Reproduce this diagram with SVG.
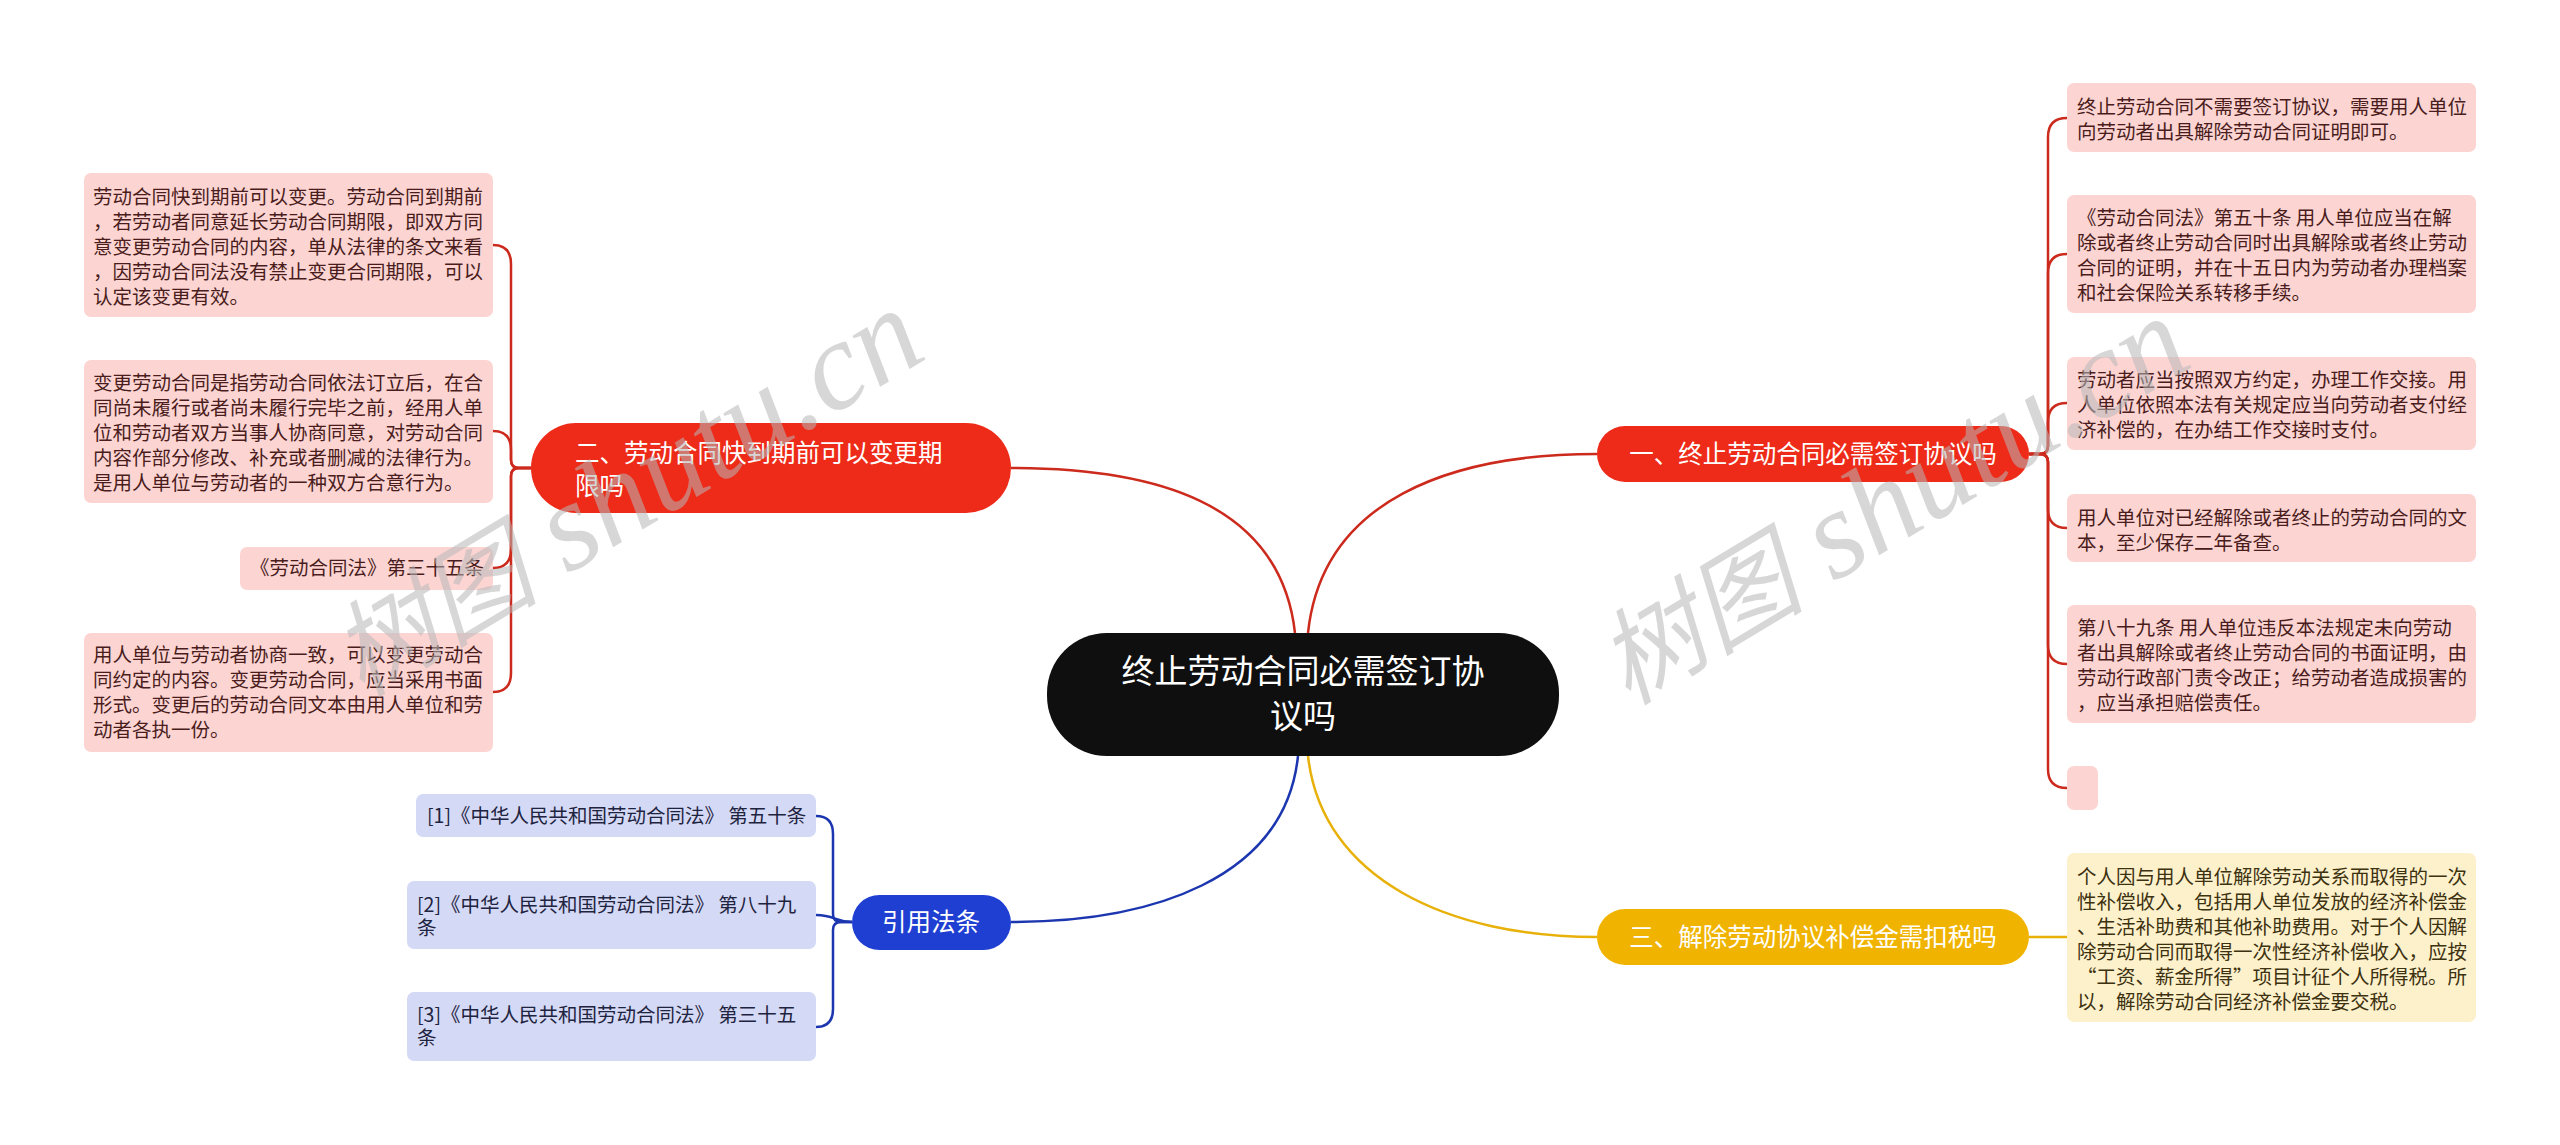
<svg xmlns="http://www.w3.org/2000/svg" width="2560" height="1145" viewBox="0 0 2560 1145">
<style>
.bg{fill:#ffffff}
.lf{font-family:"Noto Sans CJK SC","Noto Sans",sans-serif;font-size:19.5px}
.lr{fill:#fcd5d3}
.lrt{fill:#4a1c1c}
.ly{fill:#fdf1cc}
.lyt{fill:#3d3210}
.lb{fill:#d4d9f5}
.lbt{fill:#1e2340}
.bt{font-family:"Noto Sans CJK SC","Noto Sans",sans-serif;font-size:24.5px;fill:#ffffff}
.ct{font-family:"Noto Sans CJK SC","Noto Sans",sans-serif;font-size:33px;fill:#ffffff}
.cr{fill:none;stroke:#cc2a1c;stroke-width:2.5}
.cb{fill:none;stroke:#1c36b0;stroke-width:2.5}
.cy{fill:none;stroke:#e8b10a;stroke-width:2.5}
.wm{fill:#b8b8b8;opacity:0.55}
.wmc{font-family:"Noto Sans CJK SC",sans-serif;font-style:italic;font-size:104px}
.wml{font-family:"Liberation Serif",serif;font-style:italic;font-size:126px}
</style>
<rect class="bg" x="0" y="0" width="2560" height="1145"/>

<g id="connectors">
<path class="cr" d="M1295 633 C1280 500 1150 468 1011 468"/>
<path class="cr" d="M1308 633 C1322 500 1450 454 1597 454"/>
<path class="cb" d="M1298 756 C1285 880 1150 922 1011 922"/>
<path class="cy" d="M1308 756 C1322 880 1450 937 1597 937"/>
<path class="cr" d="M2029 454 L2040 454 Q2048 454 2048 446 L2048 137 Q2048 118 2067 118"/>
<path class="cr" d="M2029 454 L2040 454 Q2048 454 2048 446 L2048 273 Q2048 254 2067 254"/>
<path class="cr" d="M2029 454 L2040 454 Q2048 454 2048 446 L2048 422 Q2048 403 2067 403"/>
<path class="cr" d="M2029 454 L2040 454 Q2048 454 2048 462 L2048 509 Q2048 528 2067 528"/>
<path class="cr" d="M2029 454 L2040 454 Q2048 454 2048 462 L2048 645 Q2048 664 2067 664"/>
<path class="cr" d="M2029 454 L2040 454 Q2048 454 2048 462 L2048 769 Q2048 788 2067 788"/>
<path class="cr" d="M531 468 L519 468 Q511 468 511 460 L511 264 Q511 245 493 245"/>
<path class="cr" d="M531 468 L519 468 Q511 468 511 460 L511 450 Q511 431 493 431"/>
<path class="cr" d="M531 468 L519 468 Q511 468 511 476 L511 549 Q511 568 493 568"/>
<path class="cr" d="M531 468 L519 468 Q511 468 511 476 L511 673 Q511 692 493 692"/>
<path class="cb" d="M852 922 L841 922 Q833 922 833 914 L833 834 Q833 816 816 816"/>
<path class="cb" d="M852 922 C835 922 835 915 816 915"/>
<path class="cb" d="M852 922 L841 922 Q833 922 833 930 L833 1009 Q833 1027 816 1027"/>
<path class="cy" d="M2029 937 L2067 937"/>
</g>

<g id="center">
<rect x="1047" y="633" width="512" height="123" rx="60" fill="#0f0f0f"/>
<text class="ct" x="1303" y="683" text-anchor="middle">终止劳动合同必需签订协</text>
<text class="ct" x="1303" y="728" text-anchor="middle">议吗</text>
</g>

<g id="branch1">
<rect x="1597" y="426" width="432" height="56" rx="28" fill="#ee2b19"/>
<text class="bt" x="1813" y="463" text-anchor="middle">一、终止劳动合同必需签订协议吗</text>
</g>

<g id="branch2">
<rect x="531" y="423" width="480" height="90" rx="45" fill="#ee2b19"/>
<text class="bt" x="575" y="462">二、劳动合同快到期前可以变更期</text>
<text class="bt" x="575" y="495">限吗</text>
</g>

<g id="branch3">
<rect x="1597" y="909" width="432" height="56" rx="28" fill="#f0b400"/>
<text class="bt" x="1813" y="946" text-anchor="middle">三、解除劳动协议补偿金需扣税吗</text>
</g>

<g id="branch4">
<rect x="852" y="895" width="159" height="55" rx="27.5" fill="#1f3fd2"/>
<text class="bt" x="931" y="931" text-anchor="middle">引用法条</text>
</g>

<g id="leaf-r1">
<rect class="lr" x="2067" y="83" width="409" height="69" rx="7"/>
<text class="lf lrt" x="2077" y="114">终止劳动合同不需要签订协议，需要用人单位</text>
<text class="lf lrt" x="2077" y="139">向劳动者出具解除劳动合同证明即可。</text>
</g>
<g id="leaf-r2">
<rect class="lr" x="2067" y="195" width="409" height="118" rx="7"/>
<text class="lf lrt" x="2077" y="225">《劳动合同法》第五十条 用人单位应当在解</text>
<text class="lf lrt" x="2077" y="250">除或者终止劳动合同时出具解除或者终止劳动</text>
<text class="lf lrt" x="2077" y="275">合同的证明，并在十五日内为劳动者办理档案</text>
<text class="lf lrt" x="2077" y="300">和社会保险关系转移手续。</text>
</g>
<g id="leaf-r3">
<rect class="lr" x="2067" y="357" width="409" height="93" rx="7"/>
<text class="lf lrt" x="2077" y="387">劳动者应当按照双方约定，办理工作交接。用</text>
<text class="lf lrt" x="2077" y="412">人单位依照本法有关规定应当向劳动者支付经</text>
<text class="lf lrt" x="2077" y="437">济补偿的，在办结工作交接时支付。</text>
</g>
<g id="leaf-r4">
<rect class="lr" x="2067" y="494" width="409" height="68" rx="7"/>
<text class="lf lrt" x="2077" y="525">用人单位对已经解除或者终止的劳动合同的文</text>
<text class="lf lrt" x="2077" y="550">本，至少保存二年备查。</text>
</g>
<g id="leaf-r5">
<rect class="lr" x="2067" y="605" width="409" height="118" rx="7"/>
<text class="lf lrt" x="2077" y="635">第八十九条 用人单位违反本法规定未向劳动</text>
<text class="lf lrt" x="2077" y="660">者出具解除或者终止劳动合同的书面证明，由</text>
<text class="lf lrt" x="2077" y="685">劳动行政部门责令改正；给劳动者造成损害的</text>
<text class="lf lrt" x="2077" y="710">，应当承担赔偿责任。</text>
</g>
<g id="leaf-r6">
<rect class="lr" x="2067" y="766" width="31" height="44" rx="7"/>
</g>

<g id="leaf-y1">
<rect class="ly" x="2067" y="853" width="409" height="169" rx="7"/>
<text class="lf lyt" x="2077" y="884">个人因与用人单位解除劳动关系而取得的一次</text>
<text class="lf lyt" x="2077" y="909">性补偿收入，包括用人单位发放的经济补偿金</text>
<text class="lf lyt" x="2077" y="934">、生活补助费和其他补助费用。对于个人因解</text>
<text class="lf lyt" x="2077" y="959">除劳动合同而取得一次性经济补偿收入，应按</text>
<text class="lf lyt" x="2077" y="984">“工资、薪金所得”项目计征个人所得税。所</text>
<text class="lf lyt" x="2077" y="1009">以，解除劳动合同经济补偿金要交税。</text>
</g>

<g id="leaf-l1">
<rect class="lr" x="84" y="173" width="409" height="144" rx="7"/>
<text class="lf lrt" x="93" y="204">劳动合同快到期前可以变更。劳动合同到期前</text>
<text class="lf lrt" x="93" y="229">，若劳动者同意延长劳动合同期限，即双方同</text>
<text class="lf lrt" x="93" y="254">意变更劳动合同的内容，单从法律的条文来看</text>
<text class="lf lrt" x="93" y="279">，因劳动合同法没有禁止变更合同期限，可以</text>
<text class="lf lrt" x="93" y="304">认定该变更有效。</text>
</g>
<g id="leaf-l2">
<rect class="lr" x="84" y="360" width="409" height="143" rx="7"/>
<text class="lf lrt" x="93" y="390">变更劳动合同是指劳动合同依法订立后，在合</text>
<text class="lf lrt" x="93" y="415">同尚未履行或者尚未履行完毕之前，经用人单</text>
<text class="lf lrt" x="93" y="440">位和劳动者双方当事人协商同意，对劳动合同</text>
<text class="lf lrt" x="93" y="465">内容作部分修改、补充或者删减的法律行为。</text>
<text class="lf lrt" x="93" y="490">是用人单位与劳动者的一种双方合意行为。</text>
</g>
<g id="leaf-l3">
<rect class="lr" x="240" y="547" width="253" height="43" rx="7"/>
<text class="lf lrt" x="484" y="575" text-anchor="end">《劳动合同法》第三十五条</text>
</g>
<g id="leaf-l4">
<rect class="lr" x="84" y="633" width="409" height="119" rx="7"/>
<text class="lf lrt" x="93" y="662">用人单位与劳动者协商一致，可以变更劳动合</text>
<text class="lf lrt" x="93" y="687">同约定的内容。变更劳动合同，应当采用书面</text>
<text class="lf lrt" x="93" y="712">形式。变更后的劳动合同文本由用人单位和劳</text>
<text class="lf lrt" x="93" y="737">动者各执一份。</text>
</g>

<g id="leaf-b1">
<rect class="lb" x="416" y="794" width="400" height="43" rx="7"/>
<text class="lf lbt" x="427" y="823">[1]《中华人民共和国劳动合同法》 第五十条</text>
</g>
<g id="leaf-b2">
<rect class="lb" x="407" y="881" width="409" height="68" rx="7"/>
<text class="lf lbt" x="417" y="912">[2]《中华人民共和国劳动合同法》 第八十九</text>
<text class="lf lbt" x="417" y="935">条</text>
</g>
<g id="leaf-b3">
<rect class="lb" x="407" y="992" width="409" height="69" rx="7"/>
<text class="lf lbt" x="417" y="1022">[3]《中华人民共和国劳动合同法》 第三十五</text>
<text class="lf lbt" x="417" y="1045">条</text>
</g>

<g id="watermark">
<text class="wm" transform="translate(362 698) rotate(-31)"><tspan class="wmc">树图</tspan><tspan class="wml"> shutu.cn</tspan></text>
<text class="wm" transform="translate(1628 706) rotate(-31)"><tspan class="wmc">树图</tspan><tspan class="wml"> shutu.cn</tspan></text>
</g>
</svg>
